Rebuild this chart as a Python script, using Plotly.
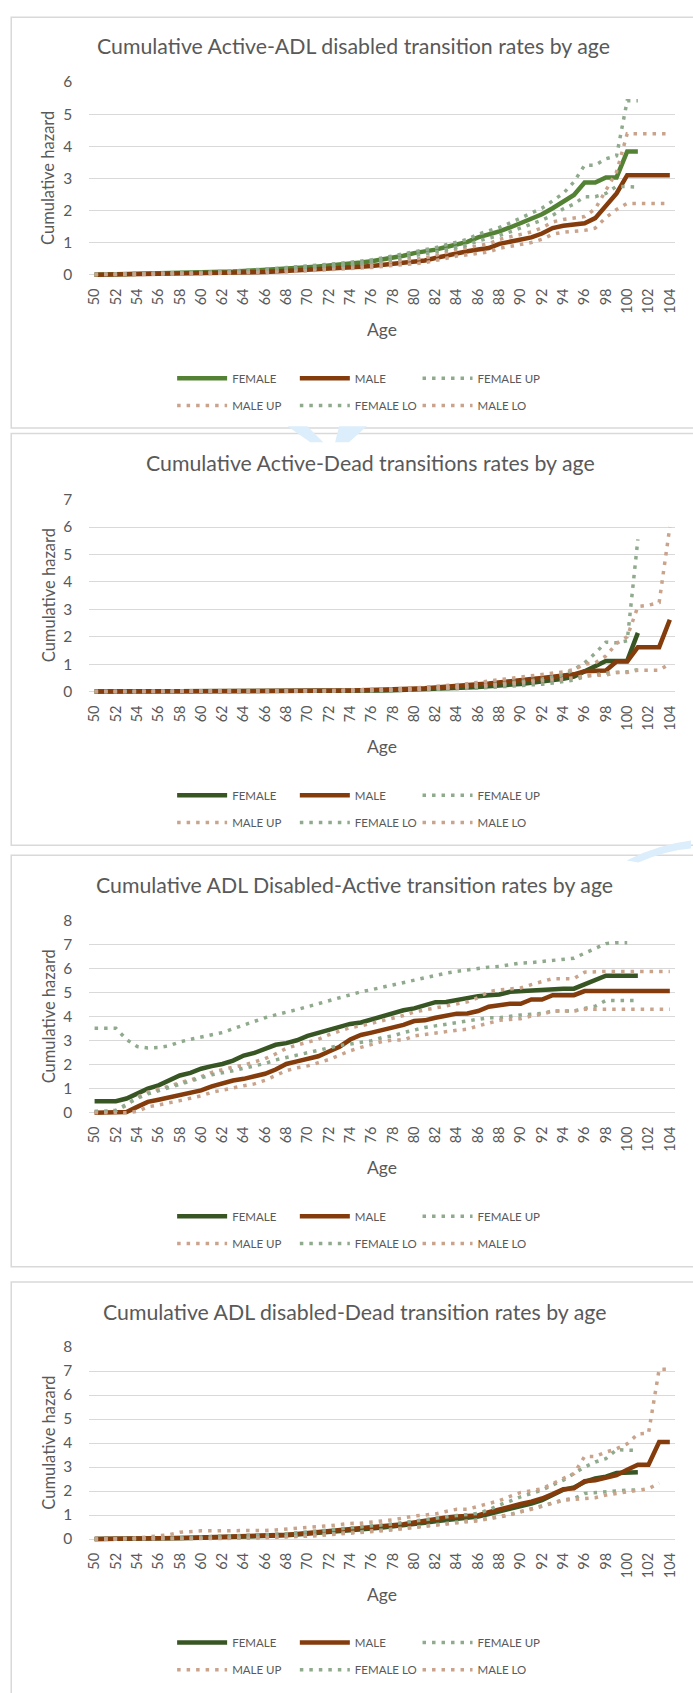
import plotly.graph_objects as go

# ---------------------------------------------------------------- data
AGES = list(range(50, 105))
TICK_AGES = list(range(50, 105, 2))
SERIES_NAMES = ["FEMALE", "MALE", "FEMALE UP", "MALE UP", "FEMALE LO", "MALE LO"]

TITLES = [
    "Cumulative Active-ADL disabled transition rates by age",
    "Cumulative Active-Dead transitions rates by age",
    "Cumulative ADL Disabled-Active transition rates by age",
    "Cumulative ADL disabled-Dead transition rates by age",
]
Y_MAX = [6, 7, 8, 8]

# Active -> ADL disabled
P1_FEMALE = [0.00, 0.005, 0.01, 0.015, 0.02, 0.025, 0.03, 0.035, 0.04, 0.05,
             0.06, 0.07, 0.08, 0.095, 0.11, 0.125, 0.14, 0.165, 0.19, 0.21,
             0.23, 0.255, 0.28, 0.31, 0.34, 0.38, 0.42, 0.47, 0.52, 0.59,
             0.67, 0.72, 0.78, 0.86, 0.94, 1.02, 1.16, 1.25, 1.35, 1.47,
             1.60, 1.76, 1.88, 2.07, 2.28, 2.48, 2.87, 2.87, 3.03, 3.03,
             3.84, 3.84]
P1_MALE = [0.0, 0.003, 0.006, 0.01, 0.012, 0.015, 0.02, 0.025, 0.03, 0.035,
           0.04, 0.045, 0.05, 0.06, 0.07, 0.075, 0.08, 0.095, 0.11, 0.13,
           0.15, 0.165, 0.18, 0.2, 0.22, 0.245, 0.27, 0.305, 0.34, 0.38,
           0.42, 0.44, 0.52, 0.6, 0.68, 0.73, 0.78, 0.83, 0.96, 1.02,
           1.09, 1.16, 1.28, 1.45, 1.52, 1.55, 1.6, 1.76, 2.17, 2.53,
           3.1, 3.1, 3.1, 3.1, 3.1]
P1_FEMALE_UP = [0.01, 0.015, 0.02, 0.025, 0.03, 0.035, 0.04, 0.05, 0.055, 0.065,
                0.075, 0.085, 0.1, 0.115, 0.13, 0.15, 0.165, 0.19, 0.22, 0.24,
                0.26, 0.29, 0.32, 0.35, 0.38, 0.42, 0.46, 0.52, 0.58, 0.64,
                0.72, 0.78, 0.84, 0.93, 1.02, 1.1, 1.26, 1.36, 1.47, 1.61,
                1.76, 1.9, 2.07, 2.3, 2.53, 2.89, 3.41, 3.41, 3.61, 3.7,
                5.42, 5.42]
P1_MALE_UP = [0.005, 0.008, 0.01, 0.015, 0.02, 0.025, 0.03, 0.035, 0.04, 0.045,
              0.05, 0.06, 0.065, 0.075, 0.085, 0.095, 0.1, 0.12, 0.135, 0.16,
              0.18, 0.2, 0.215, 0.24, 0.26, 0.29, 0.32, 0.36, 0.4, 0.44,
              0.49, 0.52, 0.6, 0.69, 0.78, 0.84, 0.9, 0.96, 1.1, 1.17,
              1.25, 1.33, 1.46, 1.64, 1.72, 1.76, 1.81, 2.05, 2.6, 3.2,
              4.39, 4.39, 4.39, 4.39, 4.39]
P1_FEMALE_LO = [0.0, 0.0, 0.005, 0.01, 0.015, 0.02, 0.025, 0.03, 0.035, 0.04,
                0.05, 0.055, 0.065, 0.08, 0.09, 0.105, 0.12, 0.14, 0.165, 0.18,
                0.2, 0.225, 0.245, 0.27, 0.3, 0.34, 0.38, 0.42, 0.47, 0.53,
                0.6, 0.65, 0.71, 0.78, 0.85, 0.92, 1.05, 1.13, 1.22, 1.33,
                1.45, 1.58, 1.7, 1.85, 2.05, 2.2, 2.43, 2.43, 2.53, 2.75,
                2.73, 2.73]
P1_MALE_LO = [0.0, 0.0, 0.003, 0.005, 0.007, 0.01, 0.012, 0.015, 0.02, 0.025,
              0.03, 0.035, 0.04, 0.045, 0.055, 0.06, 0.065, 0.075, 0.09, 0.105,
              0.12, 0.135, 0.15, 0.165, 0.18, 0.2, 0.225, 0.255, 0.285, 0.32,
              0.36, 0.37, 0.44, 0.51, 0.58, 0.62, 0.67, 0.71, 0.82, 0.88,
              0.94, 1.0, 1.1, 1.26, 1.32, 1.34, 1.38, 1.45, 1.78, 2.03,
              2.22, 2.22, 2.22, 2.22, 2.22]

# Active -> Dead
P2_FEMALE = [0, 0, 0, 0, 0, 0, 0, 0, 0, 0,
             0, 0.001, 0.002, 0.003, 0.004, 0.005, 0.006, 0.008, 0.01, 0.012,
             0.015, 0.018, 0.02, 0.022, 0.025, 0.03, 0.035, 0.04, 0.05, 0.06,
             0.07, 0.085, 0.1, 0.115, 0.13, 0.15, 0.17, 0.19, 0.22, 0.25,
             0.28, 0.32, 0.36, 0.41, 0.47, 0.55, 0.75, 0.95, 1.12, 1.12,
             1.12, 2.14]
P2_MALE = [0, 0, 0, 0, 0, 0, 0, 0, 0, 0,
           0, 0.001, 0.002, 0.003, 0.004, 0.005, 0.006, 0.008, 0.01, 0.015,
           0.02, 0.025, 0.03, 0.035, 0.04, 0.048, 0.055, 0.062, 0.07, 0.085,
           0.1, 0.12, 0.15, 0.17, 0.2, 0.23, 0.27, 0.3, 0.33, 0.37,
           0.42, 0.46, 0.5, 0.54, 0.58, 0.63, 0.74, 0.74, 0.77, 1.1,
           1.1, 1.62, 1.62, 1.62, 2.62]
P2_FEMALE_UP = [0.002, 0.002, 0.002, 0.002, 0.002, 0.002, 0.002, 0.002, 0.002, 0.002,
                0.003, 0.004, 0.005, 0.006, 0.007, 0.008, 0.01, 0.012, 0.015, 0.018,
                0.022, 0.026, 0.03, 0.033, 0.037, 0.043, 0.05, 0.058, 0.068, 0.08,
                0.09, 0.11, 0.125, 0.145, 0.17, 0.19, 0.22, 0.25, 0.29, 0.32,
                0.36, 0.41, 0.46, 0.53, 0.62, 0.8, 1.05, 1.4, 1.8, 1.78,
                1.85, 5.55]
P2_MALE_UP = [0.002, 0.002, 0.002, 0.002, 0.002, 0.002, 0.002, 0.002, 0.002, 0.002,
              0.002, 0.003, 0.004, 0.005, 0.006, 0.008, 0.01, 0.012, 0.015, 0.02,
              0.027, 0.033, 0.04, 0.046, 0.053, 0.062, 0.072, 0.082, 0.093, 0.11,
              0.13, 0.155, 0.19, 0.215, 0.25, 0.29, 0.34, 0.37, 0.41, 0.46,
              0.52, 0.57, 0.62, 0.67, 0.72, 0.8, 1.0, 1.05, 1.3, 1.75,
              2.0, 3.1, 3.15, 3.25, 6.0]
P2_FEMALE_LO = [0, 0, 0, 0, 0, 0, 0, 0, 0, 0,
                0, 0, 0, 0, 0, 0, 0, 0.003, 0.005, 0.007,
                0.009, 0.011, 0.013, 0.015, 0.017, 0.02, 0.024, 0.028, 0.035, 0.043,
                0.05, 0.062, 0.075, 0.088, 0.1, 0.115, 0.13, 0.15, 0.17, 0.19,
                0.21, 0.24, 0.27, 0.31, 0.36, 0.42, 0.55, 0.62, 0.68, 0.7,
                0.72, 0.8]
P2_MALE_LO = [0, 0, 0, 0, 0, 0, 0, 0, 0, 0,
              0, 0, 0.001, 0.002, 0.002, 0.003, 0.004, 0.005, 0.007, 0.01,
              0.013, 0.017, 0.02, 0.024, 0.028, 0.034, 0.04, 0.045, 0.052, 0.062,
              0.075, 0.09, 0.11, 0.125, 0.15, 0.175, 0.2, 0.23, 0.25, 0.28,
              0.32, 0.36, 0.39, 0.42, 0.45, 0.5, 0.58, 0.58, 0.6, 0.7,
              0.7, 0.78, 0.78, 0.78, 1.02]

# ADL disabled -> Active
P3_FEMALE = [0.48, 0.48, 0.48, 0.59, 0.79, 1.0, 1.14, 1.34, 1.55, 1.66,
             1.83, 1.94, 2.03, 2.17, 2.38, 2.49, 2.65, 2.83, 2.9, 3.02,
             3.2, 3.33, 3.45, 3.59, 3.7, 3.76, 3.89, 4.03, 4.14, 4.27,
             4.35, 4.49, 4.61, 4.62, 4.71, 4.79, 4.86, 4.9, 4.93, 5.04,
             5.07, 5.07, 5.11, 5.17, 5.17, 5.17, 5.34, 5.5, 5.71, 5.71,
             5.71, 5.71]
P3_MALE = [0, 0, 0, 0.03, 0.24, 0.45, 0.54, 0.63, 0.72, 0.82,
           0.93, 1.1, 1.23, 1.34, 1.41, 1.51, 1.62, 1.8, 2.03, 2.14,
           2.24, 2.35, 2.55, 2.75, 3.05, 3.24, 3.34, 3.44, 3.55, 3.66,
           3.82, 3.85, 3.96, 4.03, 4.13, 4.14, 4.24, 4.42, 4.47, 4.54,
           4.54, 4.72, 4.72, 4.9, 4.9, 4.9, 5.07, 5.07, 5.07, 5.07,
           5.07, 5.07, 5.07, 5.07, 5.07]
P3_FEMALE_UP = [3.52, 3.52, 3.52, 3.05, 2.76, 2.7, 2.72, 2.79, 2.95, 3.06,
                3.16, 3.27, 3.34, 3.5, 3.66, 3.8, 3.96, 4.08, 4.18, 4.3,
                4.42, 4.55, 4.66, 4.8, 4.92, 5.04, 5.13, 5.23, 5.34, 5.45,
                5.55, 5.64, 5.75, 5.82, 5.89, 5.96, 6.03, 6.07, 6.1, 6.17,
                6.24, 6.26, 6.3, 6.37, 6.4, 6.44, 6.65, 6.86, 7.05, 7.09,
                7.09]
P3_MALE_UP = [0.05, 0.05, 0.08, 0.3, 0.65, 0.85, 0.98, 1.1, 1.25, 1.38,
              1.5, 1.68, 1.8, 1.9, 1.98, 2.1, 2.25, 2.45, 2.68, 2.82,
              2.95, 3.06, 3.25, 3.4, 3.55, 3.62, 3.72, 3.85, 3.95, 4.05,
              4.2, 4.28, 4.38, 4.45, 4.55, 4.62, 4.8, 5.05, 5.12, 5.17,
              5.2, 5.34, 5.48, 5.59, 5.59, 5.59, 5.86, 5.89, 5.89, 5.89,
              5.89, 5.89, 5.89, 5.89, 5.89]
P3_FEMALE_LO = [0.05, 0.05, 0.1, 0.35, 0.6, 0.78, 0.92, 1.05, 1.2, 1.32,
                1.45, 1.58, 1.65, 1.75, 1.85, 1.95, 2.05, 2.2, 2.3, 2.4,
                2.5, 2.6, 2.7, 2.8, 2.86, 2.93, 3.0, 3.13, 3.2, 3.34,
                3.45, 3.55, 3.62, 3.69, 3.75, 3.82, 3.89, 3.96, 3.96, 4.03,
                4.07, 4.1, 4.14, 4.24, 4.24, 4.24, 4.35, 4.44, 4.68, 4.68,
                4.68, 4.68]
P3_MALE_LO = [0, 0, 0, 0, 0.05, 0.24, 0.32, 0.4, 0.5, 0.6,
              0.7, 0.85, 0.95, 1.05, 1.12, 1.2, 1.35, 1.55, 1.75, 1.87,
              1.95, 2.08, 2.22, 2.4, 2.58, 2.72, 2.86, 2.97, 3.03, 3.03,
              3.2, 3.27, 3.34, 3.38, 3.44, 3.48, 3.62, 3.75, 3.85, 3.89,
              3.92, 4.03, 4.1, 4.24, 4.24, 4.24, 4.31, 4.31, 4.31, 4.31,
              4.31, 4.31, 4.31, 4.31, 4.31]

# ADL disabled -> Dead
P4_FEMALE = [0, 0, 0, 0.002, 0.005, 0.01, 0.015, 0.022, 0.03, 0.04,
             0.05, 0.06, 0.07, 0.08, 0.09, 0.105, 0.12, 0.14, 0.16, 0.19,
             0.22, 0.25, 0.28, 0.32, 0.36, 0.4, 0.44, 0.48, 0.52, 0.56,
             0.62, 0.68, 0.74, 0.79, 0.84, 0.88, 0.94, 1.04, 1.14, 1.28,
             1.38, 1.48, 1.62, 1.84, 2.05, 2.15, 2.38, 2.52, 2.6, 2.75,
             2.78, 2.78]
P4_MALE = [0, 0, 0, 0, 0.005, 0.01, 0.02, 0.03, 0.04, 0.05,
           0.06, 0.07, 0.08, 0.09, 0.1, 0.12, 0.14, 0.16, 0.18, 0.21,
           0.25, 0.27, 0.3, 0.34, 0.39, 0.43, 0.48, 0.52, 0.56, 0.62,
           0.69, 0.77, 0.84, 0.9, 0.94, 0.98, 0.98, 1.12, 1.24, 1.38,
           1.46, 1.56, 1.69, 1.87, 2.08, 2.11, 2.41, 2.45, 2.56, 2.66,
           2.89, 3.1, 3.1, 4.04, 4.04]
P4_FEMALE_UP = [0.005, 0.006, 0.008, 0.01, 0.015, 0.02, 0.03, 0.04, 0.05, 0.065,
                0.08, 0.09, 0.1, 0.115, 0.13, 0.15, 0.17, 0.195, 0.22, 0.26,
                0.3, 0.33, 0.37, 0.41, 0.46, 0.5, 0.55, 0.59, 0.63, 0.69,
                0.75, 0.82, 0.88, 0.93, 0.98, 1.02, 1.07, 1.22, 1.42, 1.58,
                1.76, 1.9, 2.04, 2.25, 2.45, 2.73, 3.0, 3.21, 3.35, 3.72,
                3.69, 3.69]
P4_MALE_UP = [0, 0, 0.01, 0.02, 0.04, 0.08, 0.11, 0.18, 0.28, 0.32,
              0.34, 0.34, 0.34, 0.34, 0.34, 0.35, 0.36, 0.38, 0.41, 0.43,
              0.48, 0.5, 0.55, 0.6, 0.65, 0.66, 0.7, 0.75, 0.8, 0.88,
              0.96, 1.0, 1.05, 1.15, 1.24, 1.24, 1.35, 1.48, 1.6, 1.78,
              1.94, 2.01, 2.1, 2.31, 2.52, 2.73, 3.44, 3.44, 3.62, 3.76,
              3.97, 4.38, 4.41, 7.07, 7.07]
P4_FEMALE_LO = [0, 0, 0, 0, 0, 0.002, 0.005, 0.01, 0.015, 0.02,
                0.03, 0.038, 0.045, 0.052, 0.06, 0.07, 0.08, 0.095, 0.11, 0.135,
                0.16, 0.18, 0.2, 0.235, 0.27, 0.3, 0.34, 0.37, 0.41, 0.45,
                0.49, 0.55, 0.6, 0.64, 0.68, 0.73, 0.78, 0.84, 0.91, 1.02,
                1.14, 1.24, 1.35, 1.5, 1.63, 1.69, 1.9, 1.94, 1.97, 2.01,
                2.04, 2.04]
P4_MALE_LO = [0, 0, 0, 0, 0, 0, 0, 0.002, 0.005, 0.008,
              0.01, 0.015, 0.02, 0.025, 0.03, 0.04, 0.05, 0.07, 0.09, 0.1,
              0.12, 0.14, 0.17, 0.21, 0.25, 0.28, 0.31, 0.35, 0.38, 0.43,
              0.48, 0.54, 0.6, 0.65, 0.68, 0.72, 0.75, 0.86, 0.95, 1.0,
              1.14, 1.24, 1.35, 1.49, 1.62, 1.66, 1.7, 1.72, 1.83, 1.9,
              1.97, 2.04, 2.1, 2.33]

PANEL_SERIES = [
    [P1_FEMALE, P1_MALE, P1_FEMALE_UP, P1_MALE_UP, P1_FEMALE_LO, P1_MALE_LO],
    [P2_FEMALE, P2_MALE, P2_FEMALE_UP, P2_MALE_UP, P2_FEMALE_LO, P2_MALE_LO],
    [P3_FEMALE, P3_MALE, P3_FEMALE_UP, P3_MALE_UP, P3_FEMALE_LO, P3_MALE_LO],
    [P4_FEMALE, P4_MALE, P4_FEMALE_UP, P4_MALE_UP, P4_FEMALE_LO, P4_MALE_LO],
]

# ---------------------------------------------------------------- layout
W, H = 693, 1693
FONT = "Lato, 'Open Sans', sans-serif"
TEXT = "#595959"
GRID = "#d9d9d9"
MALE_C = "#843C0C"
FEMALE_CI = "#8FAA8C"
MALE_CI = "#C9A38C"
FEMALE_C = ["#548235", "#375623", "#375623", "#375623"]

PLOT_L, PLOT_R = 86, 677
# pixel geometry of each chart block: value-0 line, top gridline, title, frame
GEOM = [
    dict(zero=267.0, top=72.7, title_x=352.5, title_y=36.7, box=(7.3, 421.7)),
    dict(zero=687.7, top=494.0, title_x=369.7, title_y=456.7, box=(427.3, 842.7)),
    dict(zero=1112.5, top=919.0, title_x=353.4, title_y=882.7, box=(852.7, 1268.0)),
    dict(zero=1542.7, top=1349.0, title_x=353.1, title_y=1313.3, box=(1283.3, 1720.0)),
]


def px(x):
    return x / W


def py(y):
    return 1 - y / H


def pad(vals):
    return list(vals) + [None] * (len(AGES) - len(vals))


fig = go.Figure()
annotations, shapes, layout_extra = [], [], {}

for i, (series, g) in enumerate(zip(PANEL_SERIES, GEOM)):
    n = i + 1
    sfx = "" if n == 1 else str(n)
    ymax = Y_MAX[i]
    ppu = (g["zero"] - g["top"]) / ymax
    below = 3.0
    leg_a = "legend" if n == 1 else f"legend{2 * n - 1}"
    leg_b = f"legend{2 * n}"

    styles = [
        dict(color=FEMALE_C[i], width=4.5),
        dict(color=MALE_C, width=4.5),
        dict(color=FEMALE_CI, width=3.5, dash="3.5px,6px"),
        dict(color=MALE_CI, width=3.5, dash="3.5px,6px"),
        dict(color=FEMALE_CI, width=3.5, dash="3.5px,6px"),
        dict(color=MALE_CI, width=3.5, dash="3.5px,6px"),
    ]
    for k, (name, vals) in enumerate(zip(SERIES_NAMES, series)):
        extra = {"legendwidth": 75} if k in (2, 5) else {}
        fig.add_trace(go.Scatter(
            x=AGES, y=pad(vals), mode="lines", name=name,
            line=styles[k], xaxis=f"x{sfx}", yaxis=f"y{sfx}",
            legend=leg_a if k < 3 else leg_b, hoverinfo="skip", **extra,
        ))

    layout_extra[f"xaxis{sfx}"] = dict(
        domain=[px(PLOT_L), px(PLOT_R)], range=[49.5, 104.5], anchor=f"y{sfx}",
        tickmode="array", tickvals=TICK_AGES, ticktext=[str(a) for a in TICK_AGES],
        tickangle=-90, showgrid=False, zeroline=False, showline=False, ticks="",
        tickfont=dict(family=FONT, size=14.5, color=TEXT), ticklabelstandoff=7,
        fixedrange=True,
    )
    layout_extra[f"yaxis{sfx}"] = dict(
        domain=[py(g["zero"] + below), py(g["top"])],
        range=[-below / ppu, ymax], anchor=f"x{sfx}",
        tickmode="array", tickvals=list(range(0, ymax + 1)),
        showgrid=True, gridcolor=GRID, gridwidth=1.2, zeroline=False,
        showline=False, ticks="", ticklabelstandoff=16,
        tickfont=dict(family=FONT, size=15.5, color=TEXT), fixedrange=True,
    )

    for leg, row_y in ((leg_a, g["zero"] + 104.5), (leg_b, g["zero"] + 132.0)):
        layout_extra[leg] = dict(
            orientation="h", x=px(169.6), xanchor="left", y=py(row_y),
            yanchor="middle", itemwidth=50, entrywidth=57.7,
            entrywidthmode="pixels", bgcolor="rgba(0,0,0,0)", borderwidth=0,
            font=dict(family=FONT, size=11.5, color=TEXT), traceorder="normal",
            itemclick=False, itemdoubleclick=False,
        )

    annotations.append(dict(
        text=TITLES[i], x=px(g["title_x"]), y=py(g["title_y"]), xref="paper",
        yref="paper", xanchor="center", yanchor="middle", showarrow=False,
        font=dict(family=FONT, size=21.3, color=TEXT)))
    annotations.append(dict(
        text="Cumulative hazard", x=px(45), y=py((g["zero"] + g["top"]) / 2),
        xref="paper", yref="paper", xanchor="center", yanchor="middle",
        textangle=-90, showarrow=False,
        font=dict(family=FONT, size=16.5, color=TEXT)))
    annotations.append(dict(
        text="Age", x=px((PLOT_L + PLOT_R) / 2), y=py(g["zero"] + 55.7),
        xref="paper", yref="paper", xanchor="center", yanchor="middle",
        showarrow=False, font=dict(family=FONT, size=17.5, color=TEXT)))

    top, bottom = g["box"]
    shapes.append(dict(
        type="rect", xref="paper", yref="paper", x0=px(7.3), x1=px(W + 20),
        y0=py(bottom), y1=py(top), line=dict(color=GRID, width=1.5),
        fillcolor="rgba(0,0,0,0)", layer="below"))

# faint background marks showing through the gaps between chart blocks
shapes.append(dict(type="path", xref="paper", yref="paper", layer="below",
                   path="M {} {} L {} {} L {} {} L {} {} Z".format(
                       px(286), py(420), px(306), py(420), px(322), py(436), px(309), py(436)),
                   fillcolor="#dcEEFb", line=dict(width=0)))
shapes.append(dict(type="path", xref="paper", yref="paper", layer="below",
                   path="M {} {} L {} {} L {} {} L {} {} Z".format(
                       px(338), py(420), px(366), py(420), px(348), py(436), px(334), py(436)),
                   fillcolor="#dcEEFb", line=dict(width=0)))
shapes.append(dict(type="path", xref="paper", yref="paper", layer="below",
                   path="M {} {} Q {} {} {} {} L {} {} Q {} {} {} {} Z".format(
                       px(628), py(858), px(660), py(842), px(693), py(838),
                       px(693), py(846), px(668), py(848), px(640), py(860)),
                   fillcolor="#dcEEFb", line=dict(width=0)))

fig.update_layout(
    width=W, height=H, margin=dict(l=0, r=0, t=0, b=0),
    paper_bgcolor="white", plot_bgcolor="rgba(0,0,0,0)",
    showlegend=True, annotations=annotations, shapes=shapes,
    **layout_extra,
)

fig.write_html("out.html", config={"displayModeBar": False})
